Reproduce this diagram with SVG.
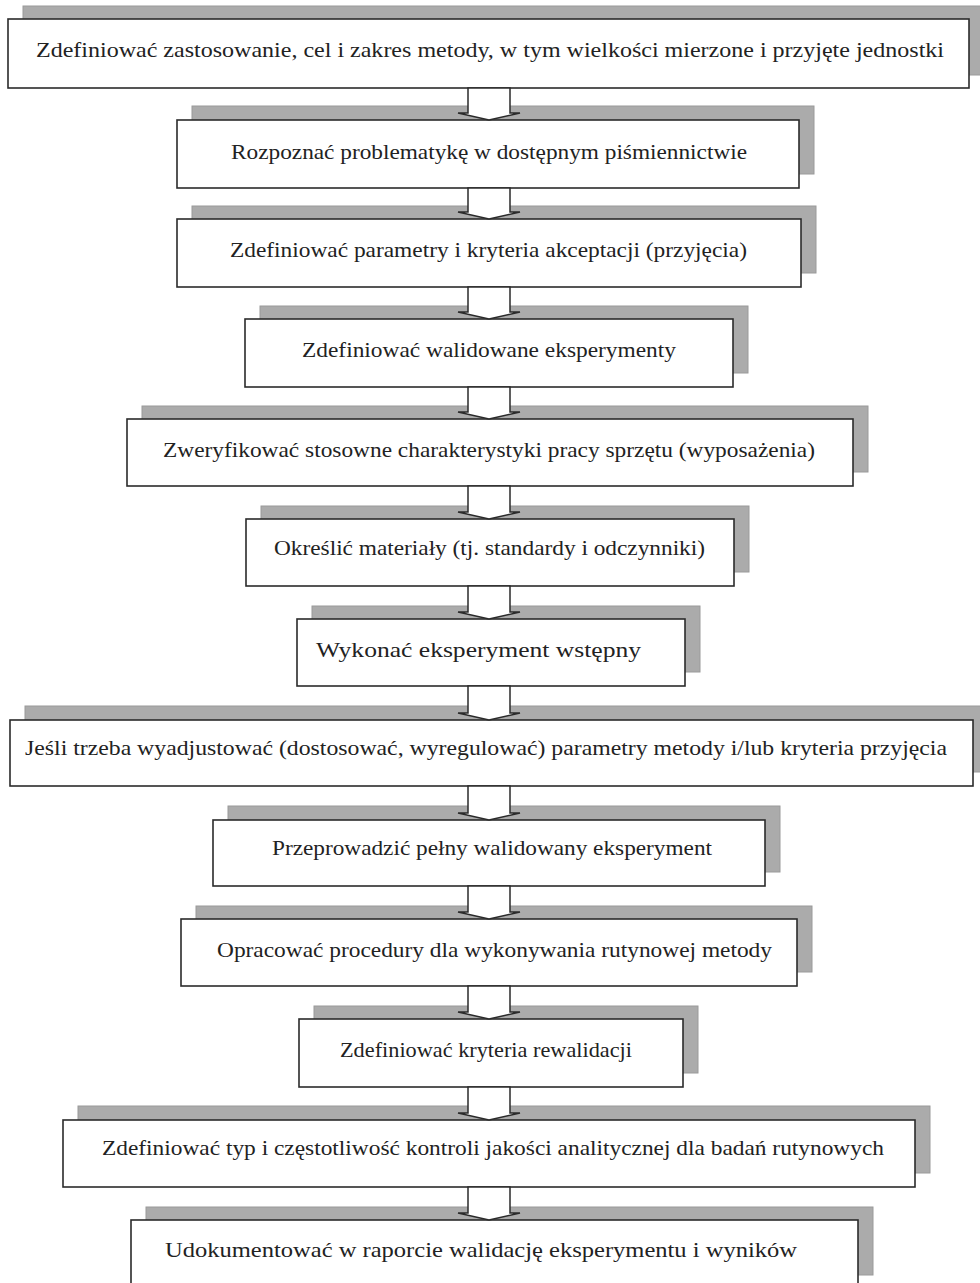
<svg xmlns="http://www.w3.org/2000/svg" width="980" height="1283" viewBox="0 0 980 1283">
<style>
.sh{fill:#ababab;stroke:#9a9a9a;stroke-width:1}
.bx{fill:#ffffff;stroke:#2b2b2b;stroke-width:1.6}
.tx{font-family:"Liberation Serif","Times New Roman",serif;font-size:22px;fill:#222;text-anchor:middle}
.ar{fill:#ffffff;stroke:#2b2b2b;stroke-width:1.5;stroke-linejoin:miter}
</style>
<rect width="980" height="1283" fill="#ffffff"/>
<g id="n1"><rect class="sh" x="23" y="6" width="961" height="69"/><rect class="bx" x="8" y="19" width="961" height="69"/><text class="tx" x="490" y="57" textLength="908" lengthAdjust="spacingAndGlyphs">Zdefiniować zastosowanie, cel i zakres metody, w tym wielkości mierzone i przyjęte jednostki</text></g>
<g id="n2"><rect class="sh" x="192" y="106" width="622" height="68"/><rect class="bx" x="177" y="120" width="622" height="68"/><text class="tx" x="489" y="159" textLength="516" lengthAdjust="spacingAndGlyphs">Rozpoznać problematykę w dostępnym piśmiennictwie</text></g>
<g id="n3"><rect class="sh" x="192" y="206" width="624" height="67"/><rect class="bx" x="177" y="219" width="624" height="68"/><text class="tx" x="488.5" y="257" textLength="517" lengthAdjust="spacingAndGlyphs">Zdefiniować parametry i kryteria akceptacji (przyjęcia)</text></g>
<g id="n4"><rect class="sh" x="260" y="306" width="488" height="67"/><rect class="bx" x="245" y="319" width="488" height="68"/><text class="tx" x="489" y="357" textLength="374" lengthAdjust="spacingAndGlyphs">Zdefiniować walidowane eksperymenty</text></g>
<g id="n5"><rect class="sh" x="142" y="406" width="726" height="66"/><rect class="bx" x="127" y="419" width="726" height="67"/><text class="tx" x="489" y="457" textLength="652" lengthAdjust="spacingAndGlyphs">Zweryfikować stosowne charakterystyki pracy sprzętu (wyposażenia)</text></g>
<g id="n6"><rect class="sh" x="261" y="506" width="488" height="66"/><rect class="bx" x="246" y="519" width="488" height="67"/><text class="tx" x="489.5" y="555" textLength="431" lengthAdjust="spacingAndGlyphs">Określić materiały (tj. standardy i odczynniki)</text></g>
<g id="n7"><rect class="sh" x="312" y="606" width="388" height="66"/><rect class="bx" x="297" y="619" width="388" height="67"/><text class="tx" x="478.5" y="657" textLength="325" lengthAdjust="spacingAndGlyphs">Wykonać eksperyment wstępny</text></g>
<g id="n8"><rect class="sh" x="25" y="706" width="963" height="66"/><rect class="bx" x="10" y="720" width="963" height="66"/><text class="tx" x="486" y="755" textLength="922" lengthAdjust="spacingAndGlyphs">Jeśli trzeba wyadjustować (dostosować, wyregulować) parametry metody i/lub kryteria przyjęcia</text></g>
<g id="n9"><rect class="sh" x="228" y="806" width="552" height="66"/><rect class="bx" x="213" y="820" width="552" height="66"/><text class="tx" x="492" y="855" textLength="440" lengthAdjust="spacingAndGlyphs">Przeprowadzić pełny walidowany eksperyment</text></g>
<g id="n10"><rect class="sh" x="196" y="906" width="616" height="66"/><rect class="bx" x="181" y="919" width="616" height="67"/><text class="tx" x="494.5" y="957" textLength="555" lengthAdjust="spacingAndGlyphs">Opracować procedury dla wykonywania rutynowej metody</text></g>
<g id="n11"><rect class="sh" x="314" y="1006" width="384" height="67"/><rect class="bx" x="299" y="1019" width="384" height="68"/><text class="tx" x="486" y="1057" textLength="292" lengthAdjust="spacingAndGlyphs">Zdefiniować kryteria rewalidacji</text></g>
<g id="n12"><rect class="sh" x="78" y="1106" width="852" height="67"/><rect class="bx" x="63" y="1120" width="852" height="67"/><text class="tx" x="493" y="1155" textLength="782" lengthAdjust="spacingAndGlyphs">Zdefiniować typ i częstotliwość kontroli jakości analitycznej dla badań rutynowych</text></g>
<g id="n13"><rect class="sh" x="146" y="1207" width="727" height="68"/><rect class="bx" x="131" y="1220" width="727" height="80"/><text class="tx" x="481" y="1257" textLength="632" lengthAdjust="spacingAndGlyphs">Udokumentować w raporcie walidację eksperymentu i wyników</text></g>
<g id="connectors">
<path class="ar" d="M468,88 H510 V113 H520 L489,120 L458,113 H468 Z"/>
<path class="ar" d="M468,188 H510 V212 H520 L489,219 L458,212 H468 Z"/>
<path class="ar" d="M468,287 H510 V312 H520 L489,319 L458,312 H468 Z"/>
<path class="ar" d="M468,387 H510 V412 H520 L489,419 L458,412 H468 Z"/>
<path class="ar" d="M468,486 H510 V512 H520 L489,519 L458,512 H468 Z"/>
<path class="ar" d="M468,586 H510 V612 H520 L489,619 L458,612 H468 Z"/>
<path class="ar" d="M468,686 H510 V713 H520 L489,720 L458,713 H468 Z"/>
<path class="ar" d="M468,786 H510 V813 H520 L489,820 L458,813 H468 Z"/>
<path class="ar" d="M468,886 H510 V912 H520 L489,919 L458,912 H468 Z"/>
<path class="ar" d="M468,986 H510 V1012 H520 L489,1019 L458,1012 H468 Z"/>
<path class="ar" d="M468,1087 H510 V1113 H520 L489,1120 L458,1113 H468 Z"/>
<path class="ar" d="M468,1187 H510 V1213 H520 L489,1220 L458,1213 H468 Z"/>
</g>
</svg>
